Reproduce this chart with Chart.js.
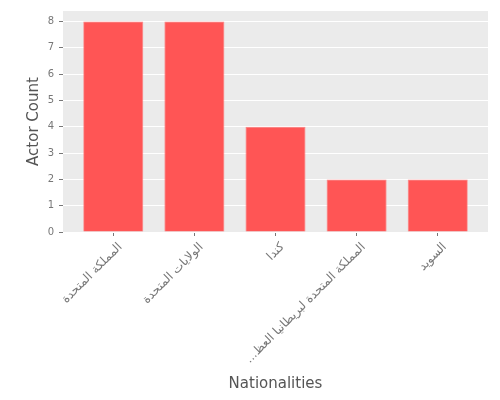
<!DOCTYPE html>
<html>
<head>
<meta charset="utf-8">
<script src="https://cdn.jsdelivr.net/npm/chart.js@4/dist/chart.umd.min.js"></script>
<style>
  html, body { margin: 0; padding: 0; background: #fff; }
</style>
</head>
<body>
<canvas id="myChart" width="500" height="400"></canvas>
<script>
// categorias (tal como aparecen en el grafico, la 4a va recortada)
const categories = [
  'المملكة المتحدة',
  'الولايات المتحدة',
  'كندا',
  'المملكة المتحدة لبريطانيا العظ...\u200F',
  'السويد'
];
const actorCounts = [8, 8, 4, 2, 2];
const yTicks = [0, 1, 2, 3, 4, 5, 6, 7, 8];

const textColor = '#555555';
const fontFamily = '"DejaVu Sans", sans-serif';

// fondo gris del area del grafico (estilo ggplot)
const plotBg = {
  id: 'plotBg',
  beforeDraw(chart) {
    const {ctx, chartArea} = chart;
    ctx.save();
    ctx.fillStyle = '#EBEBEB';
    ctx.fillRect(chartArea.left, chartArea.top, chartArea.right - chartArea.left, chartArea.bottom - chartArea.top);
    ctx.restore();
  }
};

new Chart('myChart', {
  type: 'bar',
  data: {
    datasets: [{
      data: actorCounts.map((v, i) => ({x: i, y: v})),
      backgroundColor: '#FF5555',
      borderColor: '#FF8080',
      borderWidth: 0.8,
      barPercentage: 0.74,
      categoryPercentage: 1
    }]
  },
  options: {
    responsive: false,
    animation: false,
    layout: { padding: { top: 10, right: 12, left: 0, bottom: 0 } },
    plugins: { legend: { display: false }, tooltip: { enabled: false } },
    scales: {
      x: {
        type: 'linear',
        offset: false,
        min: -0.62,
        max: 4.62,
        afterBuildTicks: (scale) => { scale.ticks = categories.map((c, i) => ({value: i})); },
        afterFit: (scale) => { scale.height = 168; },
        grid: { offset: false, drawOnChartArea: false, tickColor: '#777', tickLength: 4 },
        border: { display: false },
        ticks: {
          autoSkip: false,
          minRotation: 45,
          maxRotation: 45,
          padding: 4,
          labelOffset: 7,
          color: '#777',
          font: { family: fontFamily, size: 12 },
          callback: (v) => categories[v]
        },
        title: {
          display: true,
          text: 'Nationalities',
          color: textColor,
          font: { family: fontFamily, size: 15 },
          padding: { top: 0, bottom: 6.5 }
        }
      },
      y: {
        min: 0,
        max: 8.4,
        afterBuildTicks: (scale) => { scale.ticks = yTicks.map(v => ({value: v})); },
        afterFit: (scale) => { scale.width = 63; },
        grid: { color: '#FFFFFF', lineWidth: 1, tickColor: '#777', tickLength: 4 },
        border: { display: false },
        ticks: {
          padding: 5,
          color: '#777',
          font: { family: fontFamily, size: 10 }
        },
        title: {
          display: true,
          text: 'Actor Count',
          color: textColor,
          font: { family: fontFamily, size: 15 },
          padding: { top: 25, bottom: 0 }
        }
      }
    }
  },
  plugins: [plotBg]
});
</script>
</body>
</html>
